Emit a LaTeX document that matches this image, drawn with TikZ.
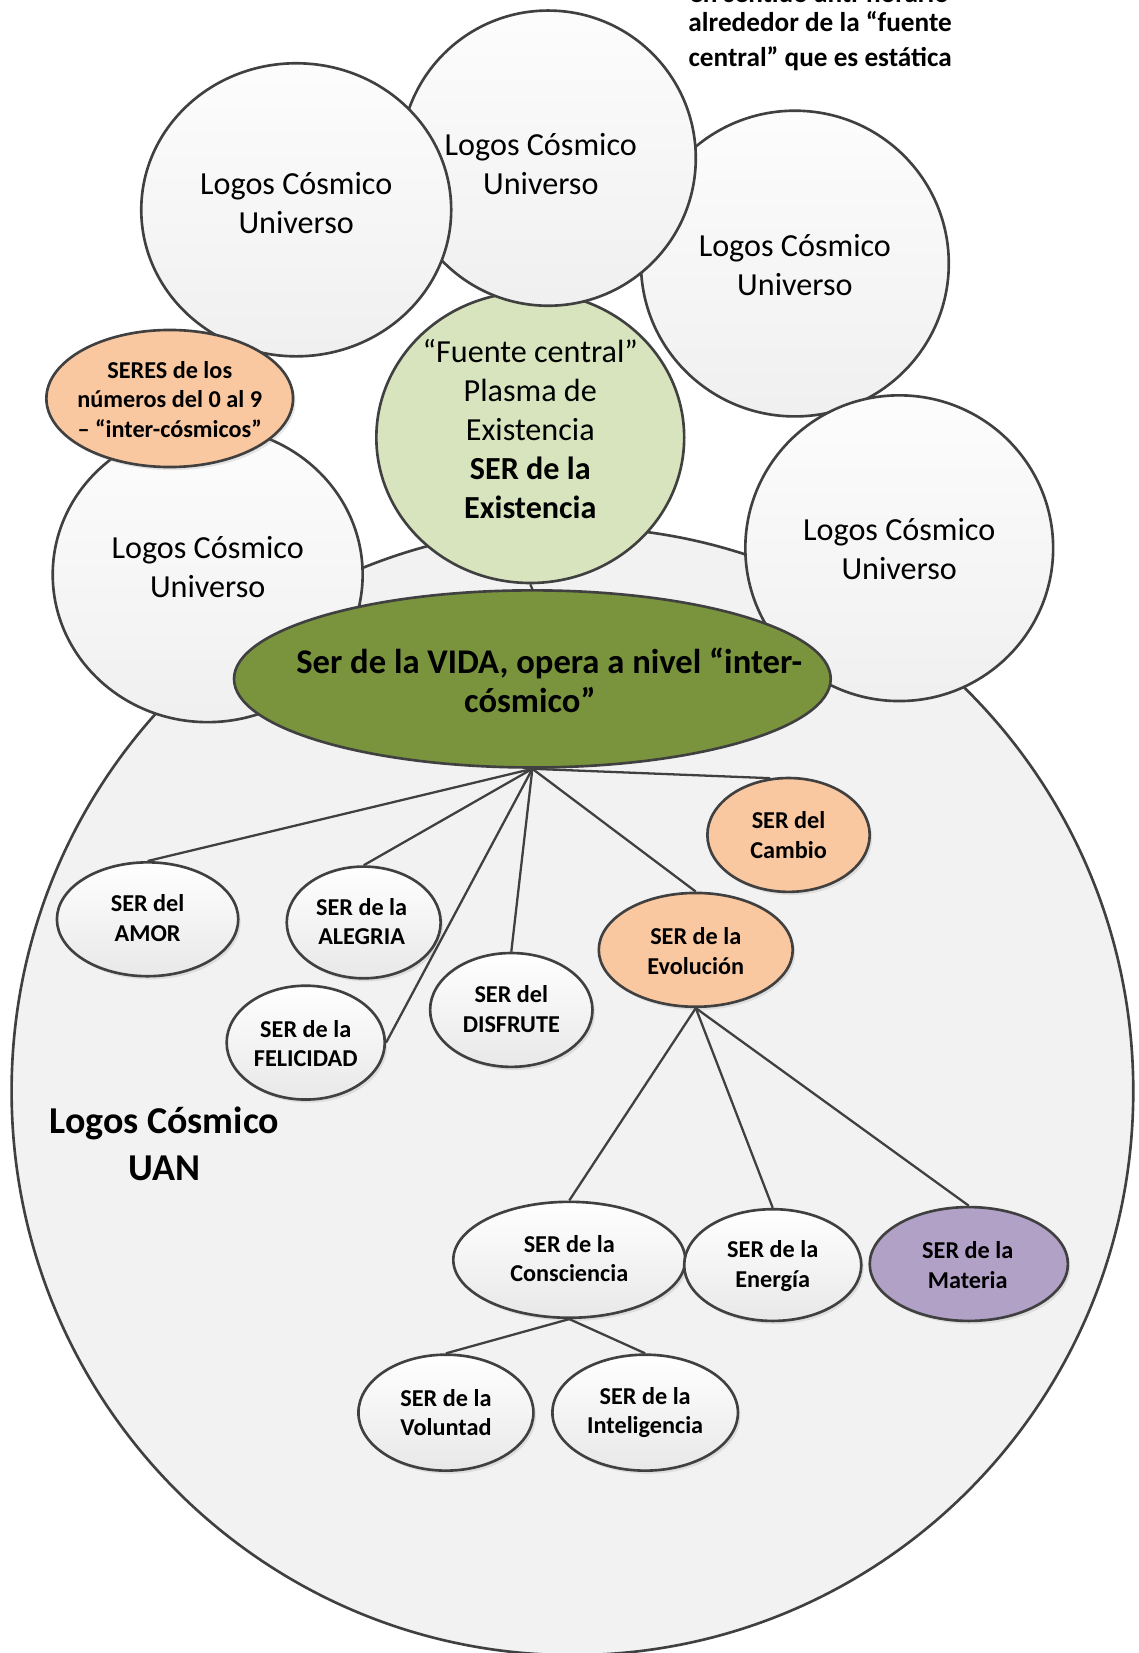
\documentclass[tikz,border=0pt]{standalone}
\usepackage{fontspec}
\setmainfont{Carlito}
\usetikzlibrary{shapes.geometric,shadows}
\definecolor{edge}{HTML}{404040}
\definecolor{uanfill}{HTML}{F2F2F2}
\definecolor{fuentefill}{HTML}{D7E4BD}
\definecolor{vidafill}{HTML}{7A943E}
\definecolor{orangefill}{HTML}{F9C7A0}
\definecolor{purplefill}{HTML}{B2A1C7}
\begin{document}
\begin{tikzpicture}[x=0.3pt,y=-0.3pt,
  ell/.style 2 args={minimum width=#1*0.6pt, minimum height=#2*0.6pt},
  ol/.style={draw=edge, line width=0.75pt, ellipse, inner sep=0pt},
  logos/.style={ol, top color=black!1, bottom color=black!6},
  childbox/.style={ol, top color=white, bottom color=black!9,
    drop shadow={opacity=0.18, shadow xshift=0.7pt, shadow yshift=-0.9pt}},
  orng/.style={ol, fill=orangefill,
    drop shadow={opacity=0.18, shadow xshift=0.7pt, shadow yshift=-0.9pt}},
  purp/.style={ol, fill=purplefill,
    drop shadow={opacity=0.18, shadow xshift=0.7pt, shadow yshift=-0.9pt}},
  conn/.style={draw=edge, line width=0.65pt},
  reg/.style={font=\fontsize{9.15}{11.1}\selectfont, align=center, inner sep=0pt},
  sm/.style={font=\bfseries\fontsize{6.9}{8.4}\selectfont, align=center, inner sep=0pt},
  topline/.style={font=\bfseries\fontsize{7.75}{9.9}\selectfont, anchor=base, inner sep=0pt},
]
\useasboundingbox (0,0) rectangle (1080,1568);
\clip (0,0) rectangle (1080,1568);
\fill[white] (0,0) rectangle (1080,1568);

% container
\node[ol, fill=uanfill, ell={532}{535}] (uan) at (543,1035) {};

% outer universes and central source
\node[logos, ell={146}{145}] (c3) at (754,250) {};
\node[logos, ell={146}{145}] (c5) at (853,520) {};
\node[ol, fill=fuentefill, ell={146}{138}] (fuente) at (503,415) {};
\node[logos, ell={140}{140}] (c2) at (520,150) {};
\node[logos, ell={147}{139}] (c1) at (281,199) {};
\node[logos, ell={147}{140}] (c4) at (197,545) {};
\node[orng, ell={117}{65}] (seres) at (161,378) {};
\node[ol, fill=vidafill, ell={283}{84}] (vida) at (505,644) {};
\draw[conn] (fuente.south) -- (vida.north);

\node[reg] (c1t) at (281,193) {Logos Cósmico\\Universo};
\node[reg] (c2t) at (513,156) {Logos Cósmico\\Universo};
\node[reg] (c3t) at (754,251) {Logos Cósmico\\Universo};
\node[reg] (c4t) at (197,538) {Logos Cósmico\\Universo};
\node[reg] (c5t) at (853,521) {Logos Cósmico\\Universo};
\node[reg] (fuentet) at (503,407) {“Fuente central”\\Plasma de\\Existencia\\\textbf{SER de la}\\\textbf{Existencia}};
\node[sm] (serest) at (161,379) {SERES de los\\números del 0 al 9\\– “inter-cósmicos”};
\node[font=\bfseries\fontsize{9.85}{11.1}\selectfont, align=center, inner sep=0pt] (vidat) at (521,645) {Ser de la VIDA, opera a nivel “inter-\\cósmico”\hspace*{11pt}};

% children of VIDA
\node[childbox, ell={86}{54}] (amor) at (140,872) {};
\node[childbox, ell={73}{53}] (alegria) at (345,875) {};
\node[childbox, ell={75}{54}] (felicidad) at (290,989) {};
\node[childbox, ell={77}{54}] (disfrute) at (485,958) {};
\node[orng, ell={92}{54}] (evol) at (660,901) {};
\node[orng, ell={77}{54}] (cambio) at (748,792) {};

\coordinate (hub) at (vida.south);
\draw[conn] (hub) -- (amor.north);
\draw[conn] (hub) -- (alegria.north);
\draw[conn] (hub) -- (felicidad.east);
\draw[conn] (hub) -- (disfrute.north);
\draw[conn] (hub) -- (evol.north);
\draw[conn] (hub) -- (cambio.108);

% children of Evolucion
\node[childbox, ell={110}{55}] (cons) at (540,1195) {};
\node[childbox, ell={84}{53}] (ener) at (733,1200) {};
\node[purp, ell={94}{54}] (mat) at (919,1199) {};
\draw[conn] (evol.south) -- (cons.north);
\draw[conn] (evol.south) -- (ener.north);
\draw[conn] (evol.south) -- (mat.north);

% children of Consciencia
\node[childbox, ell={83}{55}] (vol) at (423,1340) {};
\node[childbox, ell={88}{55}] (intel) at (612,1340) {};
\draw[conn] (cons.south) -- (vol.north);
\draw[conn] (cons.south) -- (intel.north);

\node[sm] (amort) at (140,871) {SER del\\AMOR};
\node[sm] (alegriat) at (343,874) {SER de la\\ALEGRIA};
\node[sm] (felicidadt) at (290,990) {SER de la\\FELICIDAD};
\node[sm] (disfrutet) at (485,957) {SER del\\DISFRUTE};
\node[sm] (evolt) at (660,902) {SER de la\\Evolución};
\node[sm] (cambiot) at (748,792) {SER del\\Cambio};
\node[sm] (const) at (540,1194) {SER de la\\Consciencia};
\node[sm] (enert) at (733,1201) {SER de la\\Energía};
\node[sm] (matt) at (918,1200) {SER de la\\Materia};
\node[sm] (volt) at (423,1340) {SER de la\\Voluntad};
\node[sm] (intelt) at (612,1340) {SER de la\\Inteligencia};

\node[font=\bfseries\fontsize{10.8}{13.2}\selectfont, align=center, inner sep=0pt] (uant) at (156,1085) {Logos Cósmico\\UAN};

% note at the top (first line cut by the page edge, as in the reference)
\node[topline] (top1) at (777,2) {en sentido anti-horario};
\node[topline] (top2) at (778,30) {alrededor de la “fuente};
\node[topline] (top3) at (778,63) {central” que es estática};
\end{tikzpicture}
\end{document}
